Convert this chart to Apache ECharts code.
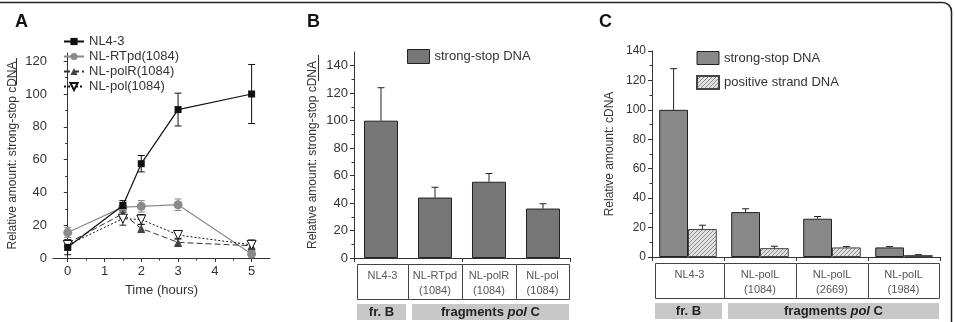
<!DOCTYPE html>
<html>
<head>
<meta charset="utf-8">
<script src="https://cdn.jsdelivr.net/npm/echarts@6/dist/echarts.min.js"></script>
<style>
html, body { margin: 0; padding: 0; background: #fff; }
#chart { width: 955px; height: 322px; }
</style>
</head>
<body>
<div id="chart"></div>
<script>
// ---- panel A: time course ----
var times = [0, 1.5, 2, 3, 5];
var nl43 = [6.5, 32, 57.5, 90.5, 100];
var nl43Err = [4.5, 3, 5, 10, 18];
var rtpd = [15.5, 31, 31.5, 32.5, 2.5];
var rtpdErr = [3, 3, 3.5, 3.5, 2];
var polR = [9, 27, 18, 9.5, 7.5];
var polRErr = [2, 3, 2.5, 2.5, 2];
var pol = [8, 24, 23.5, 14, 8];
var polErr = [3, 4, 3, 2.5, 3];
var xTicksA = [0, 1, 2, 3, 4, 5];
var xMinorA = [0.5, 1.5, 2.5, 3.5, 4.5];
var yTicksA = [0, 20, 40, 60, 80, 100, 120];
var yMinorA = [10, 30, 50, 70, 90, 110];

// ---- panel B ----
var catsB = ['NL4-3', 'NL-RTpd\n(1084)', 'NL-polR\n(1084)', 'NL-pol\n(1084)'];
var ssB = [100, 44, 55.5, 36];
var ssBErr = [24, 7.5, 6, 3.5];
var yTicksB = [0, 20, 40, 60, 80, 100, 120, 140];
var yMinorB = [10, 30, 50, 70, 90, 110, 130];

// ---- panel C ----
var catsC = ['NL4-3', 'NL-polL\n(1084)', 'NL-polL\n(2669)', 'NL-polL\n(1984)'];
var ssC = [100, 30.5, 26, 6.5];
var ssCErr = [28, 2.3, 1.5, 0.6];
var posC = [19, 6, 6.5, 1.3];
var posCErr = [2.6, 1.3, 0.6, 0.3];
var yTicksC = [0, 20, 40, 60, 80, 100, 120, 140];
var yMinorC = [10, 30, 50, 70, 90, 110, 130];

var groupsB = ['fr. B', '{b|fragments }{i|pol}{b| C}'];
var groupsC = ['fr. B', '{b|fragments }{i|pol}{b| C}'];

var FONT = '"Liberation Sans", Arial, sans-serif';
var INK = '#333';

var hatch = document.createElement('canvas');
hatch.width = 4; hatch.height = 4;
var hc = hatch.getContext('2d');
hc.fillStyle = '#e2e2e2'; hc.fillRect(0, 0, 4, 4);
hc.strokeStyle = '#8c8c8c'; hc.lineWidth = 1;
hc.beginPath();
hc.moveTo(0, 4); hc.lineTo(4, 0);
hc.moveTo(-1, 1); hc.lineTo(1, -1);
hc.moveTo(3, 5); hc.lineTo(5, 3);
hc.stroke();

function zip(xs, vs, es) {
  return vs.map(function (v, i) { return [xs ? xs[i] : i, v, es[i]]; });
}

function errBars(color, both, offFrac) {
  return function (params, api) {
    var x = api.value(0), v = api.value(1), e = api.value(2);
    var bw = offFrac ? api.size([1, 0])[0] : 0;
    var hi = api.coord([x, v + e]);
    var lo = api.coord([x, both ? Math.max(v - e, 0) : v]);
    var cx = hi[0] + (offFrac || 0) * bw;
    var c = 3.5;
    var st = { stroke: color, lineWidth: 1 };
    var kids = [
      { type: 'line', shape: { x1: cx, y1: hi[1], x2: cx, y2: lo[1] }, style: st },
      { type: 'line', shape: { x1: cx - c, y1: hi[1], x2: cx + c, y2: hi[1] }, style: st }
    ];
    if (both) kids.push({ type: 'line', shape: { x1: cx - c, y1: lo[1], x2: cx + c, y2: lo[1] }, style: st });
    return { type: 'group', children: kids };
  };
}

function valAxis(grid, min, max, ticks, labelSize, extra) {
  var ax = {
    type: 'value', gridIndex: grid, min: min, max: max, position: extra.position,
    axisLine: { show: true, lineStyle: { color: INK, width: 1 } },
    axisTick: { show: true, customValues: ticks, length: 4, lineStyle: { color: INK } },
    axisLabel: { show: true, customValues: ticks, fontSize: labelSize, fontFamily: FONT, color: INK, margin: extra.margin || 6 },
    splitLine: { show: false }
  };
  if (extra.name) {
    ax.name = extra.name; ax.nameLocation = 'middle'; ax.nameGap = extra.nameGap;
    ax.nameTextStyle = { fontSize: 12, fontFamily: FONT, color: INK };
  }
  return ax;
}

function minorAxis(grid, min, max, ticks, position) {
  return {
    type: 'value', gridIndex: grid, min: min, max: max, position: position, offset: 0,
    axisLine: { show: false },
    axisTick: { show: true, customValues: ticks, length: 2.5, lineStyle: { color: INK } },
    axisLabel: { show: false },
    splitLine: { show: false }
  };
}

function catAxis(grid, cats) {
  return {
    type: 'category', gridIndex: grid, data: cats, position: 'bottom',
    axisLine: { lineStyle: { color: INK } },
    axisTick: { show: true, length: 4, alignWithLabel: false, lineStyle: { color: INK } },
    axisLabel: { show: false },
    splitLine: { show: false }
  };
}

var chart = echarts.init(document.getElementById('chart'), null, { renderer: 'canvas' });

var option = {
  animation: false,
  textStyle: { fontFamily: FONT },
  title: [
    { text: 'A', left: 10, top: 8, textStyle: { fontSize: 18, fontWeight: 'bold', color: '#111', fontFamily: FONT } },
    { text: 'B', left: 302, top: 8, textStyle: { fontSize: 18, fontWeight: 'bold', color: '#111', fontFamily: FONT } },
    { text: 'C', left: 594, top: 8, textStyle: { fontSize: 18, fontWeight: 'bold', color: '#111', fontFamily: FONT } }
  ],
  grid: [
    { left: 53, width: 217, top: 53, bottom: 64 },
    { left: 354, width: 216, top: 52, bottom: 64 },
    { left: 652, width: 288, top: 51, bottom: 65 }
  ],
  legend: [
    {
      data: ['NL4-3', 'NL-RTpd(1084)', 'NL-polR(1084)', 'NL-pol(1084)'],
      orient: 'vertical', left: 58, top: 30, itemWidth: 20, itemHeight: 9, itemGap: 2,
      textStyle: { fontSize: 13, color: INK, fontFamily: FONT }
    },
    {
      data: [{ name: 'strong-stop DNA', itemStyle: { color: '#777', borderColor: '#222', borderWidth: 1 } }],
      left: 402, top: 44, icon: 'rect', itemWidth: 22, itemHeight: 14,
      textStyle: { fontSize: 13, color: INK, fontFamily: FONT }
    },
    {
      data: [
        { name: 'strong-stop DNA', itemStyle: { color: '#888', borderColor: '#222', borderWidth: 1 } },
        'positive strand DNA'
      ],
      orient: 'vertical', left: 691, top: 46, icon: 'rect', itemWidth: 22, itemHeight: 13, itemGap: 10,
      textStyle: { fontSize: 13, color: INK, fontFamily: FONT }
    }
  ],
  xAxis: [
    (function () {
      var a = valAxis(0, -0.4, 5.5, xTicksA, 13, { position: 'bottom', margin: 7 });
      a.name = 'Time (hours)'; a.nameLocation = 'middle'; a.nameGap = 26;
      a.nameTextStyle = { fontSize: 13, fontFamily: FONT, color: INK };
      return a;
    })(),
    minorAxis(0, -0.4, 5.5, xMinorA, 'bottom'),
    catAxis(1, catsB),
    catAxis(2, catsC)
  ],
  yAxis: [
    valAxis(0, 0, 125, yTicksA, 13, { position: 'left', name: 'Relative amount: strong-stop cDNA', nameGap: 34 }),
    minorAxis(0, 0, 125, yMinorA, 'left'),
    valAxis(1, 0, 150, yTicksB, 13, { position: 'left', name: 'Relative amount: strong-stop cDNA', nameGap: 35 }),
    minorAxis(1, 0, 150, yMinorB, 'left'),
    valAxis(2, 0, 140, yTicksC, 12, { position: 'left', name: 'Relative amount: cDNA', nameGap: 36 }),
    minorAxis(2, 0, 140, yMinorC, 'left')
  ],
  series: [
    // panel A error bars
    { type: 'custom', xAxisIndex: 0, yAxisIndex: 0, z: 1, renderItem: errBars('#111', true), encode: { x: 0, y: 1 }, data: zip(times, nl43, nl43Err) },
    { type: 'custom', xAxisIndex: 0, yAxisIndex: 0, z: 1, renderItem: errBars('#8a8a8a', true), encode: { x: 0, y: 1 }, data: zip(times, rtpd, rtpdErr) },
    { type: 'custom', xAxisIndex: 0, yAxisIndex: 0, z: 1, renderItem: errBars('#333', true), encode: { x: 0, y: 1 }, data: zip(times, polR, polRErr) },
    { type: 'custom', xAxisIndex: 0, yAxisIndex: 0, z: 1, renderItem: errBars('#222', true), encode: { x: 0, y: 1 }, data: zip(times, pol, polErr) },
    {
      name: 'NL-RTpd(1084)', type: 'line', xAxisIndex: 0, yAxisIndex: 0, z: 2,
      data: times.map(function (t, i) { return [t, rtpd[i]]; }),
      symbol: 'circle', symbolSize: 9,
      lineStyle: { color: '#8a8a8a', width: 1.2 },
      itemStyle: { color: '#8a8a8a' }
    },
    {
      name: 'NL-polR(1084)', type: 'line', xAxisIndex: 0, yAxisIndex: 0, z: 3,
      data: times.map(function (t, i) { return [t, polR[i]]; }),
      symbol: 'triangle', symbolSize: 8,
      lineStyle: { color: '#333', width: 1, type: [6, 3] },
      itemStyle: { color: '#444' }
    },
    {
      name: 'NL-pol(1084)', type: 'line', xAxisIndex: 0, yAxisIndex: 0, z: 4,
      data: times.map(function (t, i) { return [t, pol[i]]; }),
      symbol: 'triangle', symbolRotate: 180, symbolSize: 9,
      lineStyle: { color: '#111', width: 1, type: [2, 2] },
      itemStyle: { color: '#fff', borderColor: '#111', borderWidth: 1 }
    },
    {
      name: 'NL4-3', type: 'line', xAxisIndex: 0, yAxisIndex: 0, z: 5,
      data: times.map(function (t, i) { return [t, nl43[i]]; }),
      symbol: 'rect', symbolSize: 7,
      lineStyle: { color: '#111', width: 1.2 },
      itemStyle: { color: '#111' }
    },
    // panel B
    {
      name: 'strong-stop DNA', type: 'bar', xAxisIndex: 2, yAxisIndex: 2, data: ssB,
      barCategoryGap: '37%',
      itemStyle: { color: '#777', borderColor: '#222', borderWidth: 1 }
    },
    { type: 'custom', xAxisIndex: 2, yAxisIndex: 2, z: 3, renderItem: errBars('#222', false), encode: { x: 0, y: 1 }, data: zip(null, ssB, ssBErr) },
    // panel C
    {
      name: 'strong-stop DNA', type: 'bar', xAxisIndex: 3, yAxisIndex: 4, data: ssC,
      barCategoryGap: '20%', barGap: 0,
      itemStyle: { color: '#888', borderColor: '#222', borderWidth: 1 }
    },
    {
      name: 'positive strand DNA', type: 'bar', xAxisIndex: 3, yAxisIndex: 4, data: posC,
      barCategoryGap: '20%', barGap: 0,
      itemStyle: { color: { image: hatch, repeat: 'repeat' }, borderColor: '#444', borderWidth: 1 }
    },
    { type: 'custom', xAxisIndex: 3, yAxisIndex: 4, z: 3, renderItem: errBars('#222', false, -0.2), encode: { x: 0, y: 1 }, data: zip(null, ssC, ssCErr) },
    { type: 'custom', xAxisIndex: 3, yAxisIndex: 4, z: 3, renderItem: errBars('#222', false, 0.2), encode: { x: 0, y: 1 }, data: zip(null, posC, posCErr) }
  ]
};

chart.setOption(option);

// tables under panels B and C, placed from the category axes
function table(xi, yi, cells, groups) {
  var c0 = chart.convertToPixel({ xAxisIndex: xi }, 0);
  var c1 = chart.convertToPixel({ xAxisIndex: xi }, 1);
  var bw = c1 - c0;
  var L = c0 - bw / 2;
  var y0 = Math.round(chart.convertToPixel({ yAxisIndex: yi }, 0));
  var out = [];
  cells.forEach(function (t, i) {
    var x = Math.round(L + i * bw + (i === 0 ? 3 : 0));
    var x2 = Math.round(L + (i + 1) * bw - (i === cells.length - 1 ? 1 : 0));
    out.push({ type: 'rect', shape: { x: x + 0.5, y: y0 + 6.5, width: x2 - x, height: 35 },
      style: { fill: '#fff', stroke: '#444', lineWidth: 1 } });
    out.push({ type: 'text', x: (x + x2) / 2, y: y0 + 10,
      style: { text: t, fontSize: 11, fontFamily: FONT, fill: '#555', align: 'center', verticalAlign: 'top', lineHeight: 15 } });
  });
  var spans = [[0, 1], [1, cells.length]];
  spans.forEach(function (s, k) {
    var x = Math.round(L + s[0] * bw + (k === 0 ? 3 : 4));
    var x2 = Math.round(L + s[1] * bw - (k === 0 ? 2 : 1));
    out.push({ type: 'rect', shape: { x: x, y: y0 + 46, width: x2 - x, height: 16 }, style: { fill: '#c8c8c8' } });
    out.push({ type: 'text', x: (x + x2) / 2, y: y0 + 54,
      style: { text: groups[k], fontSize: 13, fontWeight: 'bold', fontFamily: FONT, fill: '#222', align: 'center', verticalAlign: 'middle',
        rich: { b: { fontSize: 13, fontWeight: 'bold', fontFamily: FONT, fill: '#222' },
                i: { fontSize: 13, fontWeight: 'bold', fontStyle: 'italic', fontFamily: FONT, fill: '#222' } } } });
  });
  return out;
}

var gfx = [
  { type: 'rect', silent: true, shape: { x: -20.5, y: 2.5, width: 972, height: 400, r: 9 }, style: { fill: 'none', stroke: '#222', lineWidth: 1.5 } },
  // underline of "cDNA" in the axis titles
  { type: 'line', shape: { x1: 16.5, y1: 58, x2: 16.5, y2: 85 }, style: { stroke: INK, lineWidth: 1 } },
  { type: 'line', shape: { x1: 318.5, y1: 55, x2: 318.5, y2: 81 }, style: { stroke: INK, lineWidth: 1 } }
].concat(table(2, 2, catsB, groupsB), table(3, 4, catsC, groupsC));

chart.setOption({ graphic: gfx });
</script>
</body>
</html>
